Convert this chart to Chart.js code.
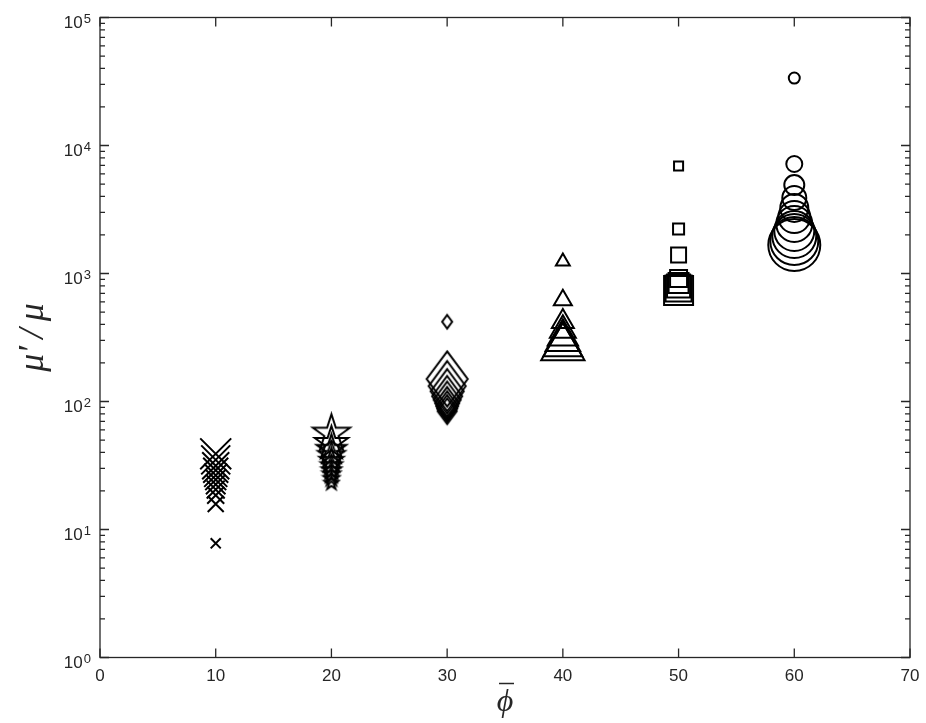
<!DOCTYPE html>
<html>
<head>
<meta charset="utf-8">
<script src="https://cdn.jsdelivr.net/npm/chart.js@4.4.1/dist/chart.umd.min.js"></script>
<style>
    html, body { margin: 0; padding: 0; background: #fff; }
    #wrap { width: 926px; height: 723px; }
</style>
</head>
<body>
<div id="wrap"><canvas id="ratio-graph"></canvas></div>
<script>
// mean volume fraction of each group
const groupPhi = [10, 20, 30, 40, 50, 60];

// mu'/mu, one list per group
const ratioPhi10 = [39, 35, 31.5, 29, 26.5, 24.5, 22.5, 20.5, 18.5, 15.8, 7.8];
const ratioPhi20 = [56, 47, 42, 38, 34.5, 31.5, 29, 27, 25, 23];
const ratioPhi30 = [420, 150, 132, 120, 110, 103, 97, 92, 88, 84];
const ratioPhi40 = [1240, 620, 420, 360, 320, 297, 276, 263];
const ratioPhi50 = [6920, 2230, 1395, 914, 843, 798, 763, 736];
const ratioPhi60 = [33650, 7170, 4910, 3890, 3250, 2760, 2440, 2150, 1960, 1795, 1670];

// marker sizes (px) for each point
const markPhi10 = [21.9, 20.5, 19.1, 17.7, 16.3, 14.8, 13.8, 12.7, 12, 11.3, 7.1];
const markPhi20 = [19.5, 17.5, 15.5, 14, 12.5, 11, 10, 9, 8, 7];
const markPhi30 = [5, 20.5, 18.5, 16.5, 15, 13.5, 12, 11, 10, 9.5];
const markPhi40 = [8, 10.4, 12.7, 15, 17.5, 20, 22.5, 25];
const markPhi50 = [6.4, 7.8, 10.6, 12, 14.1, 16.3, 18.4, 20.5];
const markPhi60 = [5.5, 8, 10, 12, 14, 16, 18, 20, 22, 24, 26];

// tick labels
const yTicks = [1, 10, 100, 1000, 10000, 100000];
const yExponents = ["0", "1", "2", "3", "4", "5"];
const xTicks = [0, 10, 20, 30, 40, 50, 60, 70];

const axisColor = "#262626";
const markLine = 2;
const labelFont = "'Liberation Sans', Arial, sans-serif";
const mathFont = "'Liberation Serif', 'DejaVu Serif', serif";

// five pointed star, matlab 'p'
function starMarker(R) {
    const size = Math.ceil(2 * R + 6);
    const c = document.createElement("canvas");
    c.width = size; c.height = size;
    const g = c.getContext("2d");
    g.beginPath();
    for (var i = 0; i < 10; i++) {
        const rr = i % 2 === 0 ? R : R * 0.382;
        const a = -Math.PI / 2 + i * Math.PI / 5;
        g.lineTo(size / 2 + rr * Math.cos(a), size / 2 + rr * Math.sin(a));
    }
    g.closePath();
    g.lineWidth = markLine;
    g.strokeStyle = "#000";
    g.stroke();
    return c;
}

// tall diamond, matlab 'd'
function diamondMarker(w) {
    const h = w * 1.35;
    const cw = Math.ceil(2 * w + 6), ch = Math.ceil(2 * h + 6);
    const c = document.createElement("canvas");
    c.width = cw; c.height = ch;
    const g = c.getContext("2d");
    g.beginPath();
    g.moveTo(cw / 2, ch / 2 - h);
    g.lineTo(cw / 2 + w, ch / 2);
    g.lineTo(cw / 2, ch / 2 + h);
    g.lineTo(cw / 2 - w, ch / 2);
    g.closePath();
    g.lineWidth = markLine;
    g.strokeStyle = "#000";
    g.stroke();
    return c;
}

const starImgs = markPhi20.map(starMarker);
const diamondImgs = markPhi30.map(diamondMarker);

function group(phi, ratios, sizes, style) {
    return {
        data: ratios.map(v => ({x: phi, y: v})),
        pointStyle: style,
        pointRadius: sizes,
        pointBorderWidth: markLine,
        pointBorderColor: "#000",
        pointBackgroundColor: "rgba(0,0,0,0)",
        showLine: false
    };
}

// matlab look: box, inward ticks on all sides, minor log ticks, 10^n labels
const matlabAxes = {
    id: "matlabAxes",
    afterDraw(chart) {
        const {ctx, chartArea: a, scales: {x, y}} = chart;
        ctx.save();
        ctx.strokeStyle = axisColor;
        ctx.lineWidth = 1.3;
        ctx.strokeRect(a.left, a.top, a.right - a.left, a.bottom - a.top);
        ctx.beginPath();
        xTicks.forEach(t => {
            const px = x.getPixelForValue(t);
            ctx.moveTo(px, a.bottom); ctx.lineTo(px, a.bottom - 9);
            ctx.moveTo(px, a.top); ctx.lineTo(px, a.top + 9);
        });
        for (var d = 0; d < yTicks.length; d++) {
            const py = y.getPixelForValue(yTicks[d]);
            ctx.moveTo(a.left, py); ctx.lineTo(a.left + 9, py);
            ctx.moveTo(a.right, py); ctx.lineTo(a.right - 9, py);
            if (d == yTicks.length - 1) break;
            for (var m = 2; m < 10; m++) {
                const pm = y.getPixelForValue(yTicks[d] * m);
                ctx.moveTo(a.left, pm); ctx.lineTo(a.left + 5, pm);
                ctx.moveTo(a.right, pm); ctx.lineTo(a.right - 5, pm);
            }
        }
        ctx.stroke();

        // tick labels
        ctx.fillStyle = axisColor;
        ctx.textBaseline = "alphabetic";
        ctx.textAlign = "center";
        ctx.font = "17px " + labelFont;
        xTicks.forEach(t => {
            ctx.fillText(String(t), x.getPixelForValue(t), a.bottom + 23);
        });
        yTicks.forEach((t, i) => {
            const py = y.getPixelForValue(t);
            ctx.textAlign = "right";
            ctx.font = "13px " + labelFont;
            ctx.fillText(yExponents[i], a.left - 9, py + 5);
            const ew = ctx.measureText(yExponents[i]).width;
            ctx.font = "17px " + labelFont;
            ctx.fillText("10", a.left - 10 - ew, py + 10);
        });

        // x title, phi with a bar over it
        const cx = (a.left + a.right) / 2;
        ctx.textAlign = "center";
        ctx.font = "italic 32px " + mathFont;
        ctx.fillText("\u03d5", cx, 711);
        ctx.lineWidth = 1.5;
        ctx.beginPath();
        ctx.moveTo(cx - 6, 683.5); ctx.lineTo(cx + 9, 683.5);
        ctx.stroke();
        ctx.restore();
    }
};

new Chart(document.getElementById("ratio-graph"), {
    type: "scatter",
    data: {
        datasets: [
            group(groupPhi[0], ratioPhi10, markPhi10, "crossRot"),
            group(groupPhi[1], ratioPhi20, markPhi20, ctx => starImgs[ctx.dataIndex]),
            group(groupPhi[2], ratioPhi30, markPhi30, ctx => diamondImgs[ctx.dataIndex]),
            group(groupPhi[3], ratioPhi40, markPhi40, "triangle"),
            group(groupPhi[4], ratioPhi50, markPhi50, "rect"),
            group(groupPhi[5], ratioPhi60, markPhi60, "circle")
        ]
    },
    options: {
        responsive: true,
        maintainAspectRatio: false,
        animation: false,
        layout: { autoPadding: false, padding: { top: 17.5, right: 16, left: 0, bottom: 0 } },
        scales: {
            x: {
                type: "linear",
                min: 0,
                max: 70,
                afterBuildTicks: s => { s.ticks = xTicks.map(v => ({value: v})); },
                afterFit: s => { s.height = 65.5; },
                grid: { display: false },
                border: { display: false },
                ticks: { display: false }
            },
            y: {
                type: "logarithmic",
                min: 1,
                max: 100000,
                afterBuildTicks: s => { s.ticks = yTicks.map(v => ({value: v})); },
                afterFit: s => { s.width = 100; },
                grid: { display: false },
                border: { display: false },
                ticks: { display: false },
                title: {
                    display: true,
                    text: "\u03bc\u2032\u2009/\u2009\u03bc",
                    color: axisColor,
                    padding: { top: 12, bottom: 0 },
                    font: { family: mathFont, size: 36, style: "italic" }
                }
            }
        },
        plugins: {
            legend: { display: false },
            tooltip: { enabled: false }
        }
    },
    plugins: [matlabAxes]
});
</script>
</body>
</html>
